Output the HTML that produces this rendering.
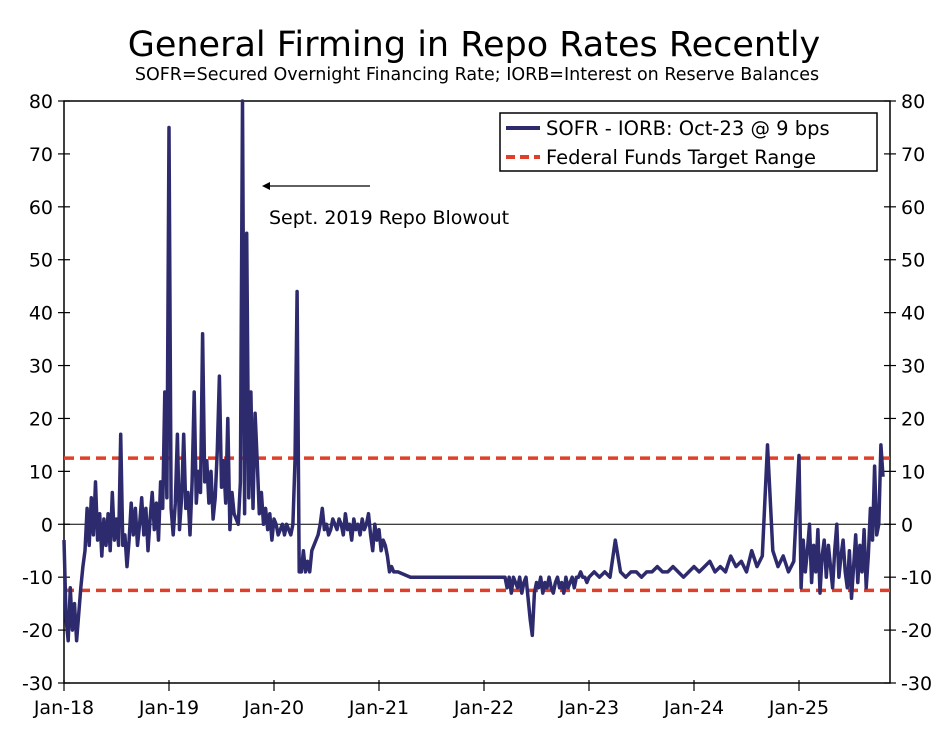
<!DOCTYPE html>
<html><head><meta charset="utf-8"><style>
body{margin:0;background:#fff;font-family:"Liberation Sans","DejaVu Sans",sans-serif}
svg text{font-family:"DejaVu Sans","Liberation Sans",sans-serif}
</style></head><body>
<svg id="c" width="949" height="727">
<text x="474" y="56" font-size="35" text-anchor="middle">General Firming in Repo Rates Recently</text>
<text x="477" y="80" font-size="17.5" text-anchor="middle">SOFR=Secured Overnight Financing Rate; IORB=Interest on Reserve Balances</text>
<g id="axes"></g>
<g id="series"></g>
<g>
<rect x="500" y="113" width="377" height="58" fill="#fff" stroke="#000" stroke-width="1.5"/>
<line x1="506" y1="128" x2="540" y2="128" stroke="#2e2a6e" stroke-width="4"/>
<text x="546" y="135" font-size="19.5">SOFR - IORB: Oct-23 @ 9 bps</text>
<line x1="506" y1="157" x2="540" y2="157" stroke="#e0402a" stroke-width="4" stroke-dasharray="9,5"/>
<text x="546" y="164" font-size="19.5">Federal Funds Target Range</text>
</g>
<g>
<line x1="370" y1="186" x2="268" y2="186" stroke="#000" stroke-width="1.2"/>
<polygon points="262,186 270,182 270,190" fill="#000"/>
<text x="269" y="224" font-size="19">Sept. 2019 Repo Blowout</text>
</g>
</svg>
<script>
const xTicks=["Jan-18","Jan-19","Jan-20","Jan-21","Jan-22","Jan-23","Jan-24","Jan-25"];
const yTicks=[80,70,60,50,40,30,20,10,0,-10,-20,-30];
const bandUpper=12.5, bandLower=-12.5;
const dates2018=[2018.00,2018.02,2018.04,2018.06,2018.08,2018.10,2018.12,2018.14,2018.16,2018.18,2018.20,2018.22,2018.24,2018.26,2018.28,2018.30,2018.32,2018.34,2018.36,2018.38,2018.40,2018.42,2018.44,2018.46,2018.48,2018.50,2018.52,2018.54,2018.56,2018.58,2018.60,2018.62,2018.64,2018.66,2018.68,2018.70,2018.72,2018.74,2018.76,2018.78,2018.80,2018.82,2018.84,2018.86,2018.88,2018.90,2018.92,2018.94,2018.96,2018.98];
const values2018=[-3,-18,-22,-12,-20,-15,-22,-17,-12,-8,-5,3,-4,5,-2,8,-3,2,-6,1,-4,2,-5,6,-3,1,-4,17,-4,-2,-8,-3,4,-2,3,-4,0,5,-2,3,-5,1,6,-1,4,-3,8,3,25,5];
const dates2019=[2019.00,2019.02,2019.04,2019.06,2019.08,2019.10,2019.12,2019.14,2019.16,2019.18,2019.20,2019.22,2019.24,2019.26,2019.28,2019.30,2019.32,2019.34,2019.36,2019.38,2019.40,2019.42,2019.44,2019.46,2019.48,2019.50,2019.52,2019.54,2019.56,2019.58,2019.60,2019.62,2019.64,2019.66,2019.68,2019.70,2019.72,2019.74,2019.76,2019.78,2019.80,2019.82,2019.84,2019.86,2019.88,2019.90,2019.92,2019.94,2019.96,2019.98];
const values2019=[75,3,-2,4,17,-1,5,17,3,6,-2,8,25,4,10,6,36,8,12,4,10,1,5,14,28,7,12,4,20,-1,6,2,1,0,8,80,2,55,5,25,3,21,12,2,6,0,3,-1,2,-3];
const dates2020=[2020.00,2020.02,2020.04,2020.06,2020.08,2020.10,2020.12,2020.14,2020.16,2020.18,2020.20,2020.22,2020.24,2020.26,2020.28,2020.30,2020.32,2020.34,2020.36,2020.38,2020.40,2020.42,2020.44,2020.46,2020.48,2020.50,2020.52,2020.54,2020.56,2020.58,2020.60,2020.62,2020.64,2020.66,2020.68,2020.70,2020.72,2020.74,2020.76,2020.78,2020.80,2020.82,2020.84,2020.86,2020.88,2020.90,2020.92,2020.94,2020.96,2020.98];
const values2020=[1,0,-2,-1,0,-2,0,-1,-2,0,12,44,-9,-9,-5,-9,-7,-9,-5,-4,-3,-2,0,3,-1,0,-2,-1,1,0,-1,1,0,-2,2,-1,0,-3,1,-1,0,-2,1,-1,0,2,-2,-5,0,-3];
const dates2021=[2021.00,2021.02,2021.04,2021.06,2021.08,2021.10,2021.12,2021.14,2021.16,2021.18,2021.30,2021.50,2021.70,2022.00,2022.20];
const values2021=[-1,-5,-3,-4,-6,-9,-8,-9,-9,-9,-10,-10,-10,-10,-10];
const dates2022=[2022.22,2022.24,2022.26,2022.28,2022.30,2022.32,2022.34,2022.36,2022.38,2022.40,2022.42,2022.44,2022.46,2022.48,2022.50,2022.52,2022.54,2022.56,2022.58,2022.60,2022.62,2022.64,2022.66,2022.68,2022.70,2022.72,2022.74,2022.76,2022.78,2022.80,2022.82,2022.84,2022.86,2022.88,2022.90,2022.92,2022.94,2022.96,2022.98];
const values2022=[-12,-10,-13,-10,-11,-12,-10,-13,-11,-10,-14,-18,-21,-13,-11,-12,-10,-13,-11,-12,-10,-12,-13,-11,-10,-12,-11,-13,-10,-12,-11,-10,-12,-10,-10,-9,-10,-10,-11];
const dates2023=[2023.00,2023.05,2023.10,2023.15,2023.20,2023.25,2023.30,2023.35,2023.40,2023.45,2023.50,2023.55,2023.60,2023.65,2023.70,2023.75,2023.80,2023.85,2023.90,2023.95];
const values2023=[-10,-9,-10,-9,-10,-3,-9,-10,-9,-9,-10,-9,-9,-8,-9,-9,-8,-9,-10,-9];
const dates2024=[2024.00,2024.05,2024.10,2024.15,2024.20,2024.25,2024.30,2024.35,2024.40,2024.45,2024.50,2024.55,2024.60,2024.65,2024.70,2024.75,2024.80,2024.85,2024.90,2024.95];
const values2024=[-8,-9,-8,-7,-9,-8,-9,-6,-8,-7,-9,-5,-8,-6,15,-5,-8,-6,-9,-7];
const dates2025=[2025.00,2025.02,2025.04,2025.06,2025.08,2025.10,2025.12,2025.14,2025.16,2025.18,2025.20,2025.22,2025.24,2025.26,2025.28,2025.30,2025.32,2025.34,2025.36,2025.38,2025.40,2025.42,2025.44,2025.46,2025.48,2025.50,2025.52,2025.54,2025.56,2025.58,2025.60,2025.62,2025.64,2025.66,2025.68,2025.70,2025.72,2025.74,2025.76,2025.78,2025.80];
const values2025=[13,-12,-3,-9,-5,0,-11,-4,-9,-1,-13,-6,-3,-10,-4,-8,-12,-5,0,-10,-6,-3,-9,-12,-5,-14,-8,-2,-11,-4,-9,-1,-12,-6,3,-3,11,-2,0,15,9];
const dates=[].concat(dates2018,dates2019,dates2020,dates2021,dates2022,dates2023,dates2024,dates2025);
const values=[].concat(values2018,values2019,values2020,values2021,values2022,values2023,values2024,values2025);
const X0=64,X1=890,Y0=101,Y1=683;
const xs=d=>X0+(d-2018)*105;
const ys=v=>Y0+(80-v)*(Y1-Y0)/110;
const ns="http://www.w3.org/2000/svg";
const ax=document.getElementById('axes'),se=document.getElementById('series');
function mk(t,a,p){const e=document.createElementNS(ns,t);for(const k in a)e.setAttribute(k,a[k]);p.appendChild(e);return e;}
mk('rect',{x:X0,y:Y0,width:X1-X0,height:Y1-Y0,fill:'none',stroke:'#000','stroke-width':1.5},ax);
const zl=mk('line',{x1:X0,x2:X1,y1:ys(0),y2:ys(0),stroke:'#000','stroke-width':1},ax);


yTicks.forEach(v=>{
  mk('line',{x1:X0-6,x2:X0+6,y1:ys(v),y2:ys(v),stroke:'#000','stroke-width':1.2},ax);
  mk('line',{x1:X1-6,x2:X1+6,y1:ys(v),y2:ys(v),stroke:'#000','stroke-width':1.2},ax);
  const t=mk('text',{x:X0-11,y:ys(v)+7,'font-size':19,'text-anchor':'end'},ax);t.textContent=v;
  
  
  const t2=mk('text',{x:X1+11,y:ys(v)+7,'font-size':19},ax);t2.textContent=v;
  
  
});
xTicks.forEach((l,i)=>{
  const x=xs(2018+i);
  mk('line',{x1:x,x2:x,y1:Y1-3,y2:Y1+8,stroke:'#000','stroke-width':1.2},ax);
  const t=mk('text',{x:x,y:Y1+31,'font-size':19,'text-anchor':'middle'},ax);t.textContent=l;
  
  
});
[bandUpper,bandLower].forEach(v=>{
  const l=mk('line',{x1:X0,x2:X1,y1:ys(v),y2:ys(v),stroke:'#e0402a','stroke-width':3.5,'stroke-dasharray':'10,6'},se);
  
  
});
let d='';dates.forEach((t,i)=>{d+=(i?'L':'M')+xs(t).toFixed(1)+','+ys(values[i]).toFixed(1);});
const p=mk('path',{d:d,fill:'none',stroke:'#2e2a6e','stroke-width':3.5,'stroke-linejoin':'round'},se);


</script>
</body></html>
